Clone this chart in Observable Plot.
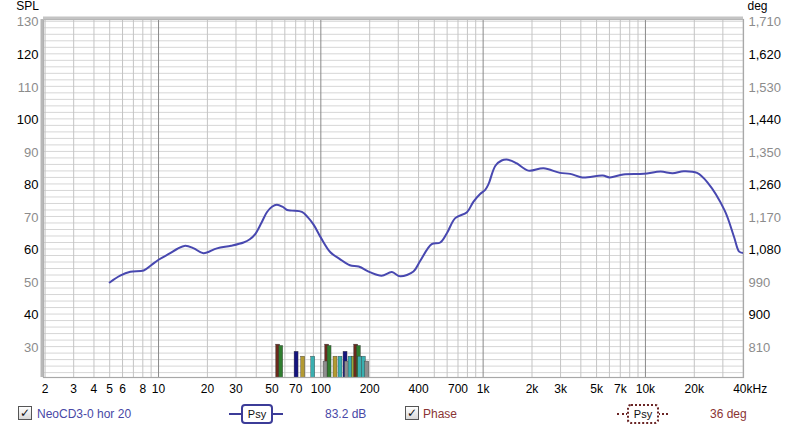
<!DOCTYPE html>
<html><head><meta charset="utf-8">
<script src="https://cdn.jsdelivr.net/npm/d3@7"></script>
<script src="https://cdn.jsdelivr.net/npm/@observablehq/plot@0.6"></script>
<style>
body{margin:0;background:#fff;font-family:"Liberation Sans",Arial,sans-serif;}
#wrap{position:relative;width:800px;height:428px;overflow:hidden;}
.legend{position:absolute;left:0;top:403px;width:800px;height:24px;font-size:12px;}
.t{position:absolute;top:3px;line-height:16px;white-space:nowrap;}
.cb{position:absolute;top:3px;width:12px;height:12px;border:1px solid #555;background:linear-gradient(#ffffff,#d8d8d8);font-size:12px;line-height:12px;text-align:center;color:#111;font-weight:bold;font-family:"DejaVu Sans",sans-serif;}
.psyline{position:absolute;top:10px;height:0;}
.psybox{position:absolute;top:1px;height:16px;border-radius:4px;background:#fff;font-size:11px;line-height:16px;text-align:center;color:#111;}
</style></head>
<body>
<div id="wrap">
<div id="chart"></div>
<div class="legend">
  <div class="cb" style="left:18px">✓</div>
  <div class="t" style="left:37px;color:#4848a6">NeoCD3-0 hor 20</div>
  <div class="psyline" style="left:229px;width:54px;border-top:2px solid #3c3c98"></div>
  <div class="psybox" style="left:241px;width:28px;border:2px solid #3c3c98">Psy</div>
  <div class="t" style="left:325px;color:#4848a6">83.2 dB</div>
  <div class="cb" style="left:405px">✓</div>
  <div class="t" style="left:423px;color:#8a3434">Phase</div>
  <div class="psyline" style="left:617px;width:51px;border-top:2px dotted #6a2424"></div>
  <div class="psybox" style="left:627px;width:28px;border:2px dotted #6a2424">Psy</div>
  <div class="t" style="left:710px;color:#8a3434">36 deg</div>
</div>
</div>
<script>
// ---- data ----
const curveFreq = [5, 5.8, 6.7, 8.1, 9, 10, 11.8, 13, 14.6, 16.5, 18.9, 22.9, 28, 33.4, 36.5, 39.4, 43, 46.5, 50, 53.6, 58, 62, 66.4, 76.4, 83, 90.2, 100, 114.5, 131, 151, 171, 202, 237, 274, 308, 372, 410, 482, 544, 600, 673, 795, 870, 958, 1030, 1080, 1190, 1300, 1394, 1500, 1615, 1900, 2355, 2978, 3440, 4080, 5460, 6020, 7300, 9760, 12400, 14700, 17200, 20800, 24100, 30800, 35200, 37800, 40000];
const curveSPL  = [49.7, 51.8, 53.0, 53.4, 55.0, 56.7, 58.7, 60.0, 61.0, 60.2, 58.7, 60.2, 61.0, 62.0, 63.0, 64.6, 68.0, 71.3, 73.0, 73.6, 73.0, 72.0, 71.8, 71.4, 69.8, 67.5, 63.5, 59.0, 56.9, 55.0, 54.6, 52.8, 51.8, 52.9, 51.6, 53.1, 56.4, 61.5, 62.0, 65.0, 69.5, 71.3, 74.5, 76.9, 78.2, 80.0, 85.6, 87.2, 87.5, 87.1, 86.3, 84.1, 84.8, 83.4, 83.1, 82.0, 82.6, 82.0, 82.9, 83.1, 83.8, 83.3, 83.9, 83.4, 80.5, 71.8, 63.6, 59.2, 58.8];

const barFreq  = [53.1, 55.4, 68.9, 75.7, 87.3, 106.4, 110, 103.9, 119.7, 128.5, 138, 141, 148.2, 156, 160.6, 166.8, 170, 179, 187.8];
const barLevel = [30.6, 30.2, 28.4, 26.9, 26.9, 30.6, 30.2, 25.4, 26.9, 26.9, 28.4, 25.4, 26.9, 26.9, 30.6, 30.2, 26.9, 26.9, 25.4];
const barColor = ["#6b2a1c", "#2f7d2f", "#14147e", "#b39a32", "#3aafb0", "#6b2a1c", "#2f7d2f", "#8e8e8e", "#b39a32", "#3aafb0", "#14147e", "#8e8e8e", "#3aafb0", "#9aa83a", "#6b2a1c", "#2f7d2f", "#3aafb0", "#3aafb0", "#8e8e8e"];

const splTicks = [30, 40, 50, 60, 70, 80, 90, 100, 110, 120, 130];
const degTickLabels = ["810", "900", "990", "1,080", "1,170", "1,260", "1,350", "1,440", "1,530", "1,620", "1,710"];
const xTicks = [2, 3, 4, 5, 6, 8, 10, 20, 30, 50, 70, 100, 200, 400, 700, 1000, 2000, 3000, 5000, 7000, 10000, 20000];
const xTickLabels = ["2", "3", "4", "5", "6", "8", "10", "20", "30", "50", "70", "100", "200", "400", "700", "1k", "2k", "3k", "5k", "7k", "10k", "20k"];
const xLastTick = [40000];
const xLastLabel = ["40kHz"];

// ---- derived tables ----
const xDomain = [1.955, 40200];
const yDomain = [20.5, 130.55];
const curve = curveFreq.map((f, i) => ({f, v: curveSPL[i]}));
const bars = barFreq.map((f, i) => ({f1: f, f2: f * 1.058, v: barLevel[i], c: barColor[i]}));
const minorX = [], decadeX = [];
for (const dec of [1, 10, 100, 1000, 10000]) {
  for (let k = 2; k <= 9; k++) { const v = k * dec; if (v <= 40000) minorX.push(v); }
  if (dec >= 10) decadeX.push(dec);
}
const gridY = d3.range(22, 131, 2);
const splLabels = splTicks.map((t, i) => ({t, deg: degTickLabels[i], c: (t / 10) % 2 === 0 ? "#000" : "#8c8c8c"}));
const xLabelRows = xTicks.map((t, i) => ({t, s: xTickLabels[i]}));
const xLastRows = xLastTick.map((t, i) => ({t, s: xLastLabel[i]}));

const chart = Plot.plot({
  width: 800, height: 428,
  marginLeft: 43, marginRight: 57, marginTop: 19, marginBottom: 51,
  style: {fontFamily: "'Liberation Sans', Arial, sans-serif", fontSize: "12px", background: "#fff", overflow: "visible"},
  x: {type: "log", domain: xDomain, axis: null},
  y: {domain: yDomain, axis: null},
  marks: [
    Plot.ruleY(gridY, {stroke: "#d6d6d6", strokeWidth: 1}),
    Plot.ruleX(minorX, {stroke: "#c4c4c4", strokeWidth: 1}),
    Plot.ruleX(decadeX, {stroke: "#8a8a8a", strokeWidth: 1}),
    Plot.rect(bars, {x1: "f1", x2: "f2", y1: 0, y2: "v", fill: "c", stroke: "#3a3a3a", strokeWidth: 0.4, clip: true}),
    Plot.line(curve, {x: "f", y: "v", stroke: "#4848b0", strokeWidth: 2, curve: "catmull-rom"}),
    Plot.frame({stroke: "#a8a8a8", strokeWidth: 1.2}),
    Plot.ruleX([xDomain[0]], {stroke: "#b8b8b8", strokeWidth: 3, dx: -1.5}),
    Plot.ruleY([yDomain[1]], {stroke: "#c4c4c4", strokeWidth: 3, dy: -1.5}),
    Plot.text(splLabels, {y: "t", text: d => String(d.t), fill: "c", frameAnchor: "left", textAnchor: "end", dx: -5, dy: 1, fontSize: 13}),
    Plot.text(splLabels, {y: "t", text: "deg", fill: "c", frameAnchor: "right", textAnchor: "start", dx: 5, dy: 1, fontSize: 13}),
    Plot.text(xLabelRows, {x: "t", text: "s", frameAnchor: "bottom", dy: 12, lineAnchor: "middle", fill: "#000", fontSize: 12}),
    Plot.text(xLastRows, {x: "t", text: "s", frameAnchor: "bottom", dy: 12, dx: 7, lineAnchor: "middle", fill: "#000", fontSize: 12}),
    Plot.text(["SPL"], {frameAnchor: "top-left", dx: -16, dy: -13, lineAnchor: "middle", textAnchor: "middle", fill: "#000", fontSize: 12}),
    Plot.text(["deg"], {frameAnchor: "top-right", dx: 14, dy: -13, lineAnchor: "middle", textAnchor: "middle", fill: "#000", fontSize: 12})
  ]
});
document.getElementById("chart").appendChild(chart);
</script>
</body></html>
